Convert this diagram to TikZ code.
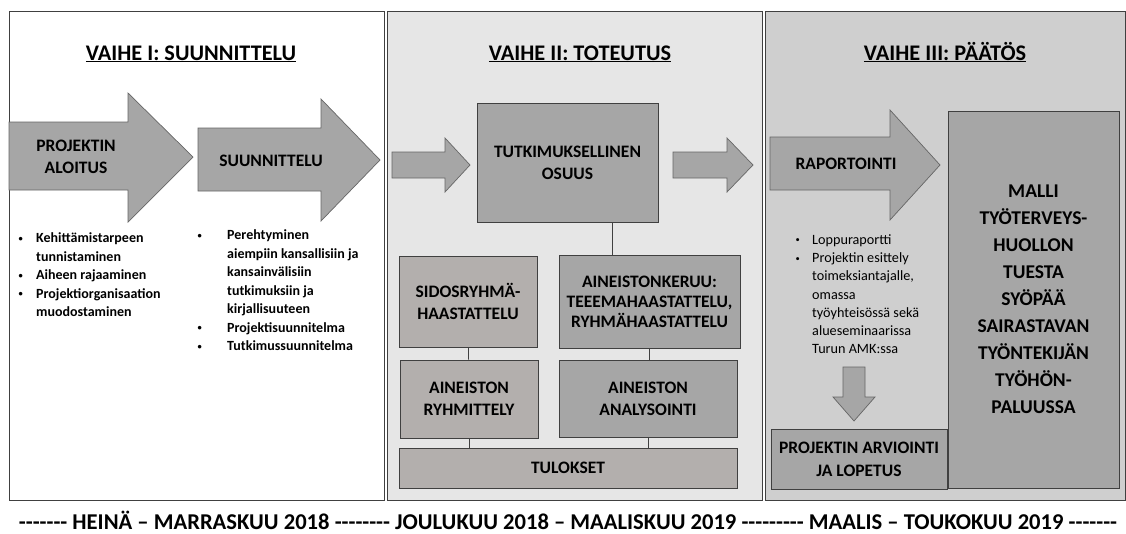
\documentclass[tikz,border=0pt]{standalone}
\usepackage{fontspec}
\usepackage{graphicx}
\setmainfont{Carlito}
\usetikzlibrary{positioning}

\definecolor{panelmid}{HTML}{E6E6E6}
\definecolor{panelright}{HTML}{CFCFCF}
\definecolor{boxdark}{HTML}{A6A6A6}
\definecolor{boxlight}{HTML}{B3AFAD}
\definecolor{edgegray}{HTML}{404040}

\newcommand{\bul}{\raisebox{0.12em}{\scalebox{0.6}{\textbullet}}}

\tikzset{
  panel/.style={draw=edgegray, line width=0.9pt, inner sep=0pt, anchor=north west},
  blockbox/.style={draw=edgegray, line width=0.9pt, inner sep=0pt, align=center,
    font=\bfseries\fontsize{17.5}{22}\selectfont},
  darkbox/.style={blockbox, fill=boxdark},
  lightbox/.style={blockbox, fill=boxlight},
  blockarrow/.style={draw=edgegray!80, line width=0.7pt, fill=boxdark, line join=miter},
  arrowtext/.style={align=center, font=\bfseries\fontsize{17.5}{22}\selectfont},
  phasetitle/.style={anchor=base, font=\bfseries\fontsize{22.3}{26}\selectfont},
  bulletlist/.style={anchor=north west, inner sep=0pt, font=\bfseries\fontsize{14}{18.5}\selectfont},
  link/.style={draw=edgegray, line width=0.8pt},
}

\begin{document}
\begin{tikzpicture}[x=1pt,y=-1pt]
\useasboundingbox (0,0) rectangle (1126,533);

% the three phases
\node[panel, fill=white, minimum width=375, minimum height=489] (vaihe1) at (9,11) {};
\node[panel, fill=panelmid, minimum width=375, minimum height=489] (vaihe2) at (387,11) {};
\node[panel, fill=panelright, minimum width=360, minimum height=489] (vaihe3) at (765,11) {};

\node[phasetitle] (otsikko1) at (191,60) {\underline{VAIHE I: SUUNNITTELU}};
\node[phasetitle] (otsikko2) at (580,60) {\underline{VAIHE II: TOTEUTUS}};
\node[phasetitle] (otsikko3) at (945,60) {\underline{VAIHE III: PÄÄTÖS}};

% vaihe I
\filldraw[blockarrow] (9,122) -- (128,122) -- (128,93) -- (193,157) -- (128,222) -- (128,190) -- (9,190) -- cycle;
\filldraw[blockarrow] (198,128) -- (321,128) -- (321,99) -- (380,160) -- (321,221) -- (321,191) -- (198,191) -- cycle;
\node[arrowtext] (aloitus) at (76,157) {PROJEKTIN\\ALOITUS};
\node[arrowtext] (suunnittelu) at (271,161) {SUUNNITTELU};

\node[bulletlist] (lista1) at (18.5,229.6) {\begin{tabular}{@{}p{17.5pt}@{}l@{}}
\bul & Kehittämistarpeen\\
     & tunnistaminen\\
\bul & Aiheen rajaaminen\\
\bul & Projektiorganisaation\\
     & muodostaminen
\end{tabular}};
\node[bulletlist] (lista2) at (197.5,226.6) {\begin{tabular}{@{}p{29.5pt}@{}l@{}}
\bul & Perehtyminen\\
     & aiempiin kansallisiin ja\\
     & kansainvälisiin\\
     & tutkimuksiin ja\\
     & kirjallisuuteen\\
\bul & Projektisuunnitelma\\
\bul & Tutkimussuunnitelma
\end{tabular}};

% vaihe II
\filldraw[blockarrow] (392,152) -- (445,152) -- (445,138) -- (470,165) -- (445,192) -- (445,178) -- (392,178) -- cycle;
\filldraw[blockarrow] (673,152) -- (727,152) -- (727,138) -- (753,165) -- (727,192) -- (727,178) -- (673,178) -- cycle;

\node[darkbox, minimum width=181, minimum height=119] (osuus) at (567.5,162.5) {TUTKIMUKSELLINEN\\OSUUS};
\node[lightbox, minimum width=138, minimum height=91] (sidos) at (468,301.5) {SIDOSRYHMÄ-\\HAASTATTELU};
\node[darkbox, minimum width=181, minimum height=93,
      font=\bfseries\fontsize{17.5}{20}\selectfont] (keruu) at (649.5,301.5) {AINEISTONKERUU:\\TEEEMAHAASTATTELU,\\RYHMÄHAASTATTELU};
\node[lightbox, minimum width=138, minimum height=78] (ryhmittely) at (469,399) {AINEISTON\\RYHMITTELY};
\node[darkbox, minimum width=178, minimum height=77] (analysointi) at (648,398.5) {AINEISTON\\ANALYSOINTI};
\node[lightbox, minimum width=338, minimum height=40] (tulokset) at (568,468) {TULOKSET};

\path[link] ([xshift=45pt]osuus.south) -- ([xshift=45pt]osuus.south |- keruu.north);
\path[link] (sidos) -- (ryhmittely);
\path[link] (keruu.south) -- (keruu.south |- analysointi.north);
\path[link] (ryhmittely.south) -- (ryhmittely.south |- tulokset.north);
\path[link] (analysointi.south) -- (analysointi.south |- tulokset.north);

% vaihe III
\filldraw[blockarrow] (770,137) -- (890,137) -- (890,110) -- (940,165) -- (890,220) -- (890,190) -- (770,190) -- cycle;
\node[arrowtext] (raportointi) at (846,164) {RAPORTOINTI};

\node[bulletlist, font=\fontsize{14.2}{18.2}\selectfont] (lista3) at (795.5,231.6) {\begin{tabular}{@{}p{16.5pt}@{}l@{}}
\bul & Loppuraportti\\
\bul & Projektin esittely\\
     & toimeksiantajalle,\\
     & omassa\\
     & työyhteisössä sekä\\
     & alueseminaarissa\\
     & Turun AMK:ssa
\end{tabular}};

\filldraw[blockarrow] (843,367) -- (865,367) -- (865,397) -- (875,397) -- (854,421) -- (833,397) -- (843,397) -- cycle;
\node[darkbox, minimum width=176, minimum height=60,
      font=\bfseries\fontsize{17.5}{23}\selectfont] (arviointi) at (859,459) {PROJEKTIN ARVIOINTI\\JA LOPETUS};
\node[darkbox, minimum width=171, minimum height=377,
      font=\bfseries\fontsize{19.5}{27}\selectfont] (malli) at (1033.5,299.5)
  {MALLI\\TYÖTERVEYS-\\HUOLLON\\TUESTA\\SYÖPÄÄ\\SAIRASTAVAN\\TYÖNTEKIJÄN\\TYÖHÖN-\\PALUUSSA};

% aikajana
\node[font=\bfseries\fontsize{22.6}{26}\selectfont] (aikajana) at (568,520)
  {-{}-{}-{}-{}-{}-{}- HEINÄ – MARRASKUU 2018 -{}-{}-{}-{}-{}-{}-{}- JOULUKUU 2018 – MAALISKUU 2019 -{}-{}-{}-{}-{}-{}-{}-{}- MAALIS – TOUKOKUU 2019 -{}-{}-{}-{}-{}-{}-};
\end{tikzpicture}
\end{document}
